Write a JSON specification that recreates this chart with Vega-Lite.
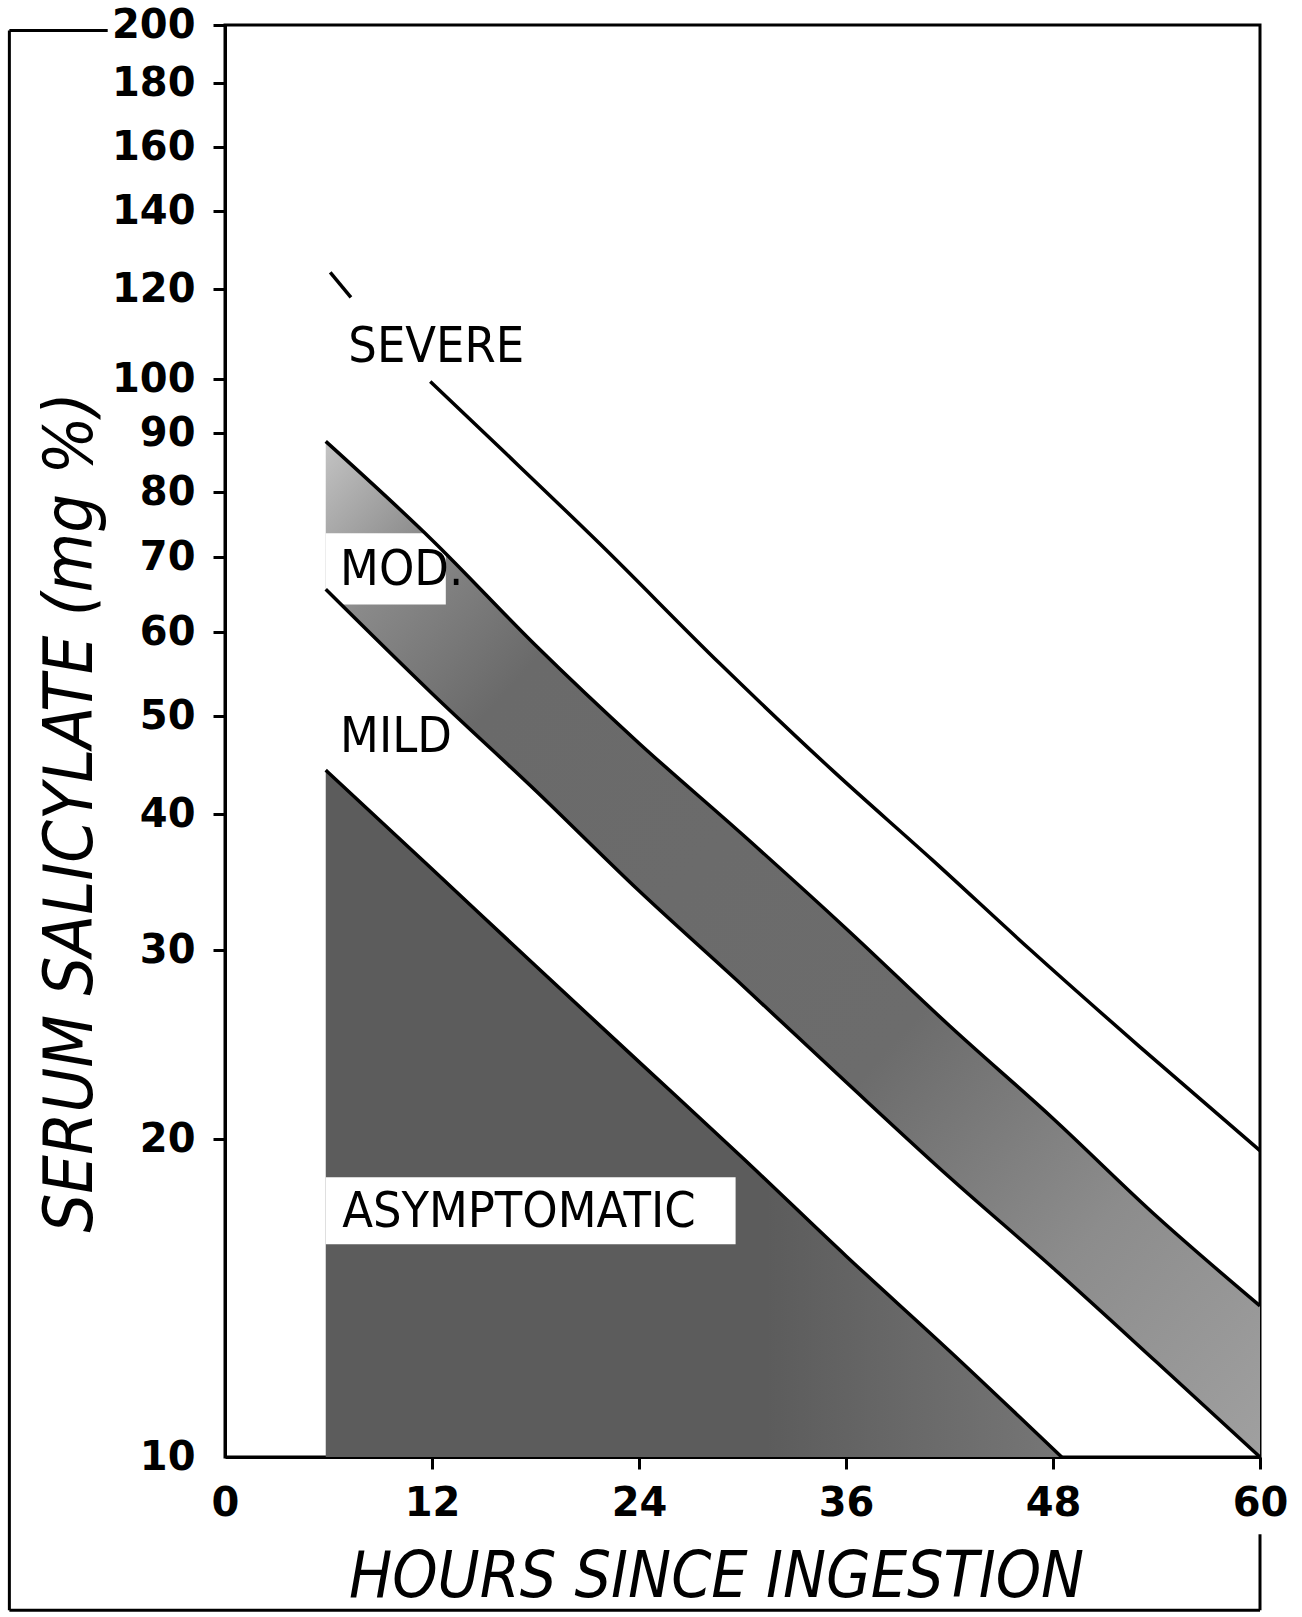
{
  "$schema": "https://vega.github.io/schema/vega-lite/v6.json",
  "width": 1035,
  "height": 1432,
  "autosize": {"type": "none"},
  "padding": {"left": 225, "top": 25, "right": 42, "bottom": 160},
  "background": "white",
  "config": {
    "view": {"stroke": "black", "strokeWidth": 3},
    "axis": {
      "domainColor": "black", "domainWidth": 3, "tickColor": "black", "tickWidth": 3, "tickSize": 12,
      "labelColor": "black", "labelFont": "DejaVu Sans", "labelFontSize": 40, "labelFontWeight": "bold", "grid": false,
      "labelFlush": false, "labelOverlap": false,
      "titleColor": "black", "titleFont": "Liberation Sans Narrow, DejaVu Sans Condensed, Liberation Sans",
      "titleFontStyle": "italic", "titleFontWeight": "normal"
    }
  },
  "datasets": {
    "lines": [
      {"line": "severe", "seg": "s1", "h": 6.1, "v": 124},
      {"line": "severe", "seg": "s1", "h": 7.3, "v": 118},
      {"line": "severe", "seg": "s2", "h": 11.9, "v": 99.5},
      {"line": "severe", "seg": "s2", "h": 16, "v": 87.2},
      {"line": "severe", "seg": "s2", "h": 21.7, "v": 72},
      {"line": "severe", "seg": "s2", "h": 28.7, "v": 56},
      {"line": "severe", "seg": "s2", "h": 35.2, "v": 44.2},
      {"line": "severe", "seg": "s2", "h": 41, "v": 36.3},
      {"line": "severe", "seg": "s2", "h": 46.7, "v": 30},
      {"line": "severe", "seg": "s2", "h": 53, "v": 24.4},
      {"line": "severe", "seg": "s2", "h": 60, "v": 19.5},
      {"line": "moderate", "seg": "m", "h": 5.84, "v": 88.5},
      {"line": "moderate", "seg": "m", "h": 12, "v": 72.5},
      {"line": "moderate", "seg": "m", "h": 18, "v": 58.3},
      {"line": "moderate", "seg": "m", "h": 24, "v": 47},
      {"line": "moderate", "seg": "m", "h": 30, "v": 38.3},
      {"line": "moderate", "seg": "m", "h": 36, "v": 31.4},
      {"line": "moderate", "seg": "m", "h": 42, "v": 25.5},
      {"line": "moderate", "seg": "m", "h": 48, "v": 20.9},
      {"line": "moderate", "seg": "m", "h": 54, "v": 16.9},
      {"line": "moderate", "seg": "m", "h": 60, "v": 13.9},
      {"line": "mild", "seg": "l", "h": 5.84, "v": 65.5},
      {"line": "mild", "seg": "l", "h": 12, "v": 52.5},
      {"line": "mild", "seg": "l", "h": 18, "v": 42.2},
      {"line": "mild", "seg": "l", "h": 24, "v": 34},
      {"line": "mild", "seg": "l", "h": 30, "v": 27.8},
      {"line": "mild", "seg": "l", "h": 36, "v": 22.6},
      {"line": "mild", "seg": "l", "h": 42, "v": 18.4},
      {"line": "mild", "seg": "l", "h": 48, "v": 15.1},
      {"line": "mild", "seg": "l", "h": 54, "v": 12.3},
      {"line": "mild", "seg": "l", "h": 60, "v": 10},
      {"line": "asym", "seg": "a", "h": 5.84, "v": 44.2},
      {"line": "asym", "seg": "a", "h": 12, "v": 35.6},
      {"line": "asym", "seg": "a", "h": 18, "v": 29.0},
      {"line": "asym", "seg": "a", "h": 24, "v": 23.6},
      {"line": "asym", "seg": "a", "h": 30, "v": 19.2},
      {"line": "asym", "seg": "a", "h": 36, "v": 15.5},
      {"line": "asym", "seg": "a", "h": 42, "v": 12.6},
      {"line": "asym", "seg": "a", "h": 48.5, "v": 10}
    ],
    "band": [
      {"h": 5.84, "v": 88.5, "v2": 65.5},
      {"h": 12, "v": 72.5, "v2": 52.5},
      {"h": 18, "v": 58.3, "v2": 42.2},
      {"h": 24, "v": 47, "v2": 34},
      {"h": 30, "v": 38.3, "v2": 27.8},
      {"h": 36, "v": 31.4, "v2": 22.6},
      {"h": 42, "v": 25.5, "v2": 18.4},
      {"h": 48, "v": 20.9, "v2": 15.1},
      {"h": 54, "v": 16.9, "v2": 12.3},
      {"h": 60, "v": 13.9, "v2": 10}
    ],
    "boxes": [
      {"h": 5.84, "h2": 12.8, "v": 63.5, "v2": 73.5},
      {"h": 5.84, "h2": 29.6, "v": 15.9, "v2": 18.4}
    ],
    "labels": [
      {"label": "SEVERE", "h": 7.15, "v": 106.6},
      {"label": "MOD.", "h": 6.67, "v": 68.1},
      {"label": "MILD", "h": 6.67, "v": 47.7},
      {"label": "ASYMPTOMATIC", "h": 6.79, "v": 17.05}
    ],
    "frame": [
      {"h": -12.5, "h2": -12.5, "v": 7.16, "v2": 198},
      {"h": -12.5, "h2": -6.8, "v": 198, "v2": 198},
      {"h": -12.5, "h2": 60, "v": 7.16, "v2": 7.16},
      {"h": 60, "h2": 60, "v": 7.16, "v2": 8.45}
    ]
  },
  "encoding": {
    "x": {
      "field": "h", "type": "quantitative",
      "scale": {"domain": [0, 60], "nice": false, "zero": false},
      "axis": {
        "values": [0, 12, 24, 36, 48, 60],
        "title": "HOURS SINCE INGESTION",
        "titleFontSize": 64, "titleX": 491, "titleY": 139, "titleBaseline": "alphabetic",
        "labelPadding": 14,
        "tickOpacity": {"condition": {"test": "datum.value == 0", "value": 0}, "value": 1}
      }
    },
    "y": {
      "field": "v", "type": "quantitative",
      "scale": {"type": "log",
                "domain": [10, 20, 30, 40, 50, 60, 70, 80, 90, 100, 120, 140, 160, 180, 200],
                "range": [1432, 1114, 925, 789, 691, 607, 532, 467, 408, 354, 264, 186, 122, 58, 0],
                "nice": false},
      "axis": {
        "values": [10, 20, 30, 40, 50, 60, 70, 80, 90, 100, 120, 140, 160, 180, 200],
        "format": "d",
        "title": "SERUM SALICYLATE (mg %)",
        "titleFontSize": 68, "titleAngle": -90, "titleX": -134, "titleY": 787, "titleBaseline": "alphabetic",
        "labelPadding": 18,
        "tickOpacity": {"condition": {"test": "datum.value == 10", "value": 0}, "value": 1}
      }
    }
  },
  "layer": [
    {
      "data": {"name": "band"},
      "mark": {"type": "area", "interpolate": "monotone", "opacity": 1,
               "color": {"gradient": "linear", "x1": 0, "y1": 0, "x2": 1, "y2": 1,
                         "stops": [{"offset": 0, "color": "#c4c4c4"}, {"offset": 0.1, "color": "#8a8a8a"},
                                   {"offset": 0.22, "color": "#6a6a6a"}, {"offset": 0.6, "color": "#6c6c6c"},
                                   {"offset": 0.8, "color": "#8c8c8c"}, {"offset": 1, "color": "#a0a0a0"}]}},
      "encoding": {"y2": {"field": "v2"}}
    },
    {
      "data": {"name": "lines"},
      "transform": [{"filter": "datum.line == 'asym'"}],
      "mark": {"type": "area", "interpolate": "monotone", "opacity": 1,
               "color": {"gradient": "linear", "x1": 0, "y1": 0, "x2": 1, "y2": 0,
                         "stops": [{"offset": 0, "color": "#5c5c5c"}, {"offset": 0.6, "color": "#5c5c5c"},
                                   {"offset": 1, "color": "#767676"}]}},
      "encoding": {"y2": {"datum": 10}}
    },
    {
      "data": {"name": "boxes"},
      "mark": {"type": "rect", "color": "white"},
      "encoding": {"x2": {"field": "h2"}, "y2": {"field": "v2"}}
    },
    {
      "data": {"name": "lines"},
      "mark": {"type": "line", "color": "black", "strokeWidth": 3.5, "interpolate": "monotone"},
      "encoding": {"detail": {"field": "seg"}}
    },
    {
      "data": {"name": "labels"},
      "mark": {"type": "text", "align": "left", "baseline": "middle", "fontSize": 50, "color": "black",
               "font": "Liberation Sans Narrow, DejaVu Sans Condensed, Liberation Sans"},
      "encoding": {"text": {"field": "label"}}
    },
    {
      "data": {"name": "frame"},
      "mark": {"type": "rule", "color": "black", "strokeWidth": 3, "clip": false},
      "encoding": {"x2": {"field": "h2"}, "y2": {"field": "v2"}}
    }
  ]
}
